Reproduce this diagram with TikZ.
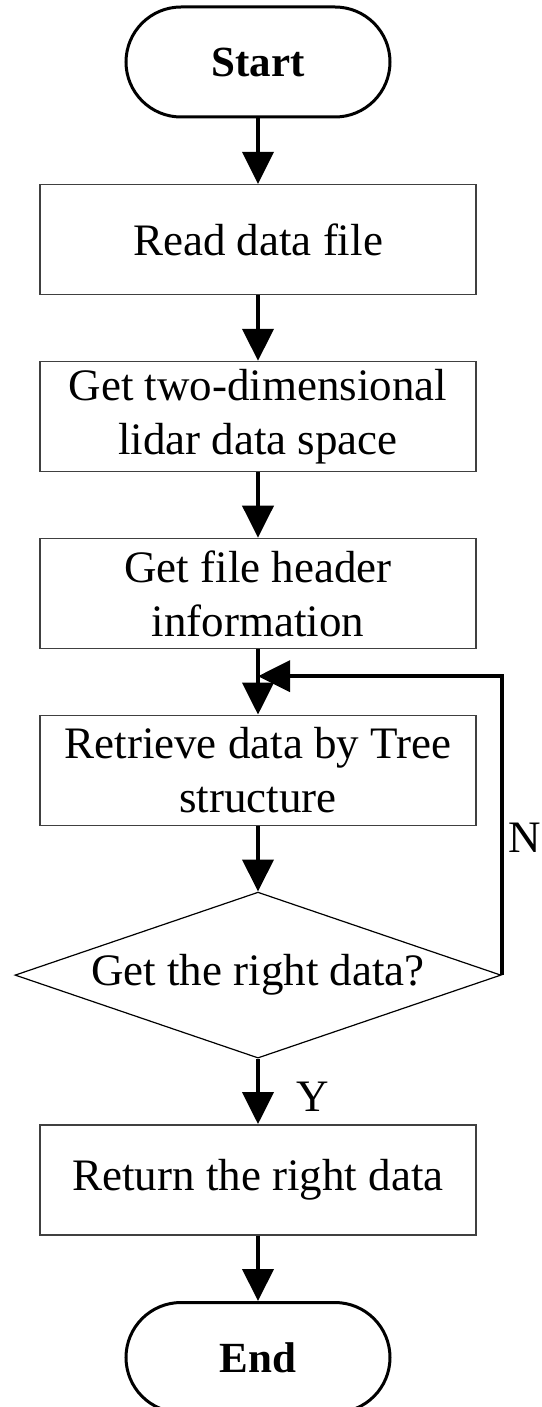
\documentclass[tikz,border=0pt]{standalone}
\usepackage{fontspec}
\setmainfont{Liberation Serif}
\usetikzlibrary{positioning,arrows.meta,shapes.geometric}

\begin{document}
\begin{tikzpicture}[
    node distance = 32.7pt,
    flow/.style={-{Triangle[width=15.5pt,length=16pt]}, line width=2pt},
    terminal/.style={rectangle, rounded corners=27.5pt, draw, line width=1.5pt, minimum width=132pt, minimum height=55pt, font=\fontsize{21.5pt}{26pt}\selectfont\bfseries},
    process/.style={rectangle, draw=black!75, line width=0.75pt, minimum width=218pt, minimum height=55pt, align=center, inner sep=2pt, font=\fontsize{22.5pt}{27pt}\selectfont},
    decision/.style={diamond, draw, line width=0.6pt, aspect=2.93, inner sep=0pt, minimum width=243pt, minimum height=83pt, font=\fontsize{22.5pt}{27pt}\selectfont},
    branch/.style={inner sep=2pt, font=\fontsize{22.5pt}{27pt}\selectfont}
]

% Page size
\useasboundingbox (-129pt,31pt) rectangle (141.5pt,-672.5pt);

% Main steps
\node[terminal] (start) {Start};
\node[process] (read) [below=of start] {Read data file};
\node[process] (space) [below=of read] {Get two-dimensional\\lidar data space};
\node[process] (header) [below=of space] {Get file header\\information};
\node[process] (tree) [below=of header] {Retrieve data by Tree\\structure};
\node[decision] (check) [below=of tree] {Get the right data?};
\node[process] (result) [below=of check] {Return the right data};
\node[terminal] (end) [below=of result] {End};

% Point where the loop comes back
\coordinate[below=13.5pt of header.south] (join);

% Transitions
\draw[flow] (start) -- (read);
\draw[flow] (read) -- (space);
\draw[flow] (space) -- (header);
\draw[flow] (header) -- (tree);
\draw[flow] (tree) -- (check);
\draw[flow] (check) -- node[branch, right=16pt, pos=0.58] {Y} (result);
\draw[flow] (result) -- (end);

% Loop back
\draw[flow] (check.east) |- node[branch, right=0.5pt, pos=0.23] {N} (join);

\end{tikzpicture}
\end{document}
